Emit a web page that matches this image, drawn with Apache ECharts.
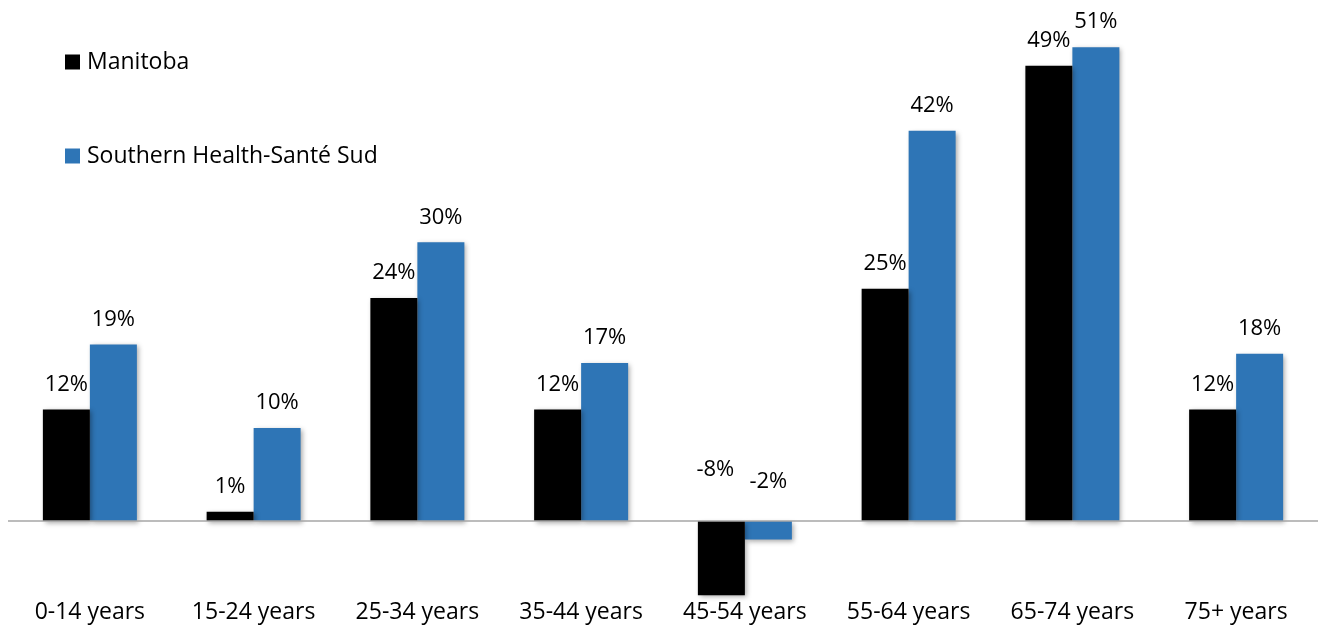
<!DOCTYPE html>
<html>
<head>
<meta charset="utf-8">
<script src="https://cdn.jsdelivr.net/npm/echarts@6/dist/echarts.min.js"></script>
<style>
  html, body { margin: 0; padding: 0; background: #ffffff; }
  #chart { width: 1318px; height: 628px; }
</style>
</head>
<body>
<div id="chart"></div>
<script>
const categories = ['0-14 years', '15-24 years', '25-34 years', '35-44 years', '45-54 years', '55-64 years', '65-74 years', '75+ years'];
const manitoba = [12, 1, 24, 12, -8, 25, 49, 12];
const southern = [19, 10, 30, 17, -2, 42, 51, 18];
const seriesNames = ['Manitoba', 'Southern Health-Santé Sud'];

const FONT = 'Open Sans';
const colors = ['#000000', '#2e75b6'];

// label placement tweaks for negative bars (styles only)
const negLabel = [
  { distance: 40, offset: [-6, 0] },
  { distance: 28, offset: [0, 0] }
];

function buildData(values, si) {
  return values.map(function (v) {
    if (v < 0) {
      return { value: v, label: { position: 'top', distance: negLabel[si].distance, offset: negLabel[si].offset } };
    }
    return v;
  });
}

const chart = echarts.init(document.getElementById('chart'));
const option = {
  animation: false,
  backgroundColor: '#ffffff',
  legend: {
    orient: 'vertical',
    left: 60,
    top: 45.5,
    itemWidth: 15,
    itemHeight: 15,
    itemGap: 71,
    icon: 'rect',
    textStyle: { fontFamily: FONT, fontSize: 23, color: '#000', lineHeight: 23, padding: [0, 0, 0, 2] },
    data: seriesNames
  },
  grid: { left: 8, width: 1313, top: 37.9, bottom: 32.7, containLabel: false },
  xAxis: {
    type: 'category',
    data: categories,
    axisLine: { show: false },
    axisTick: { show: false },
    axisLabel: { margin: 6, fontFamily: FONT, fontSize: 23, color: '#000', interval: 0 },
    splitLine: { show: false }
  },
  yAxis: {
    type: 'value',
    min: -8,
    max: 52,
    show: false,
    splitLine: { show: false }
  },
  series: [
    {
      name: seriesNames[0],
      type: 'bar',
      data: buildData(manitoba, 0),
      barWidth: 47,
      barGap: '0%',
      itemStyle: { color: colors[0], shadowColor: 'rgba(0,0,0,0.35)', shadowBlur: 5, shadowOffsetX: 2, shadowOffsetY: 2 },
      label: { show: true, position: 'top', distance: 14, formatter: '{c}%', fontFamily: FONT, fontSize: 22, color: '#000' },
      markLine: {
        silent: true,
        symbol: ['none', 'none'],
        label: { show: false },
        lineStyle: { color: '#a6a6a6', width: 1.5, type: 'solid' },
        data: [{ yAxis: 0 }]
      },
      z: 3
    },
    {
      name: seriesNames[1],
      type: 'bar',
      data: buildData(southern, 1),
      barWidth: 47,
      barGap: '0%',
      itemStyle: { color: colors[1], shadowColor: 'rgba(0,0,0,0.35)', shadowBlur: 5, shadowOffsetX: 2, shadowOffsetY: 2 },
      label: { show: true, position: 'top', distance: 14, formatter: '{c}%', fontFamily: FONT, fontSize: 22, color: '#000' },
      z: 2
    }
  ]
};
chart.setOption(option);
</script>
</body>
</html>
